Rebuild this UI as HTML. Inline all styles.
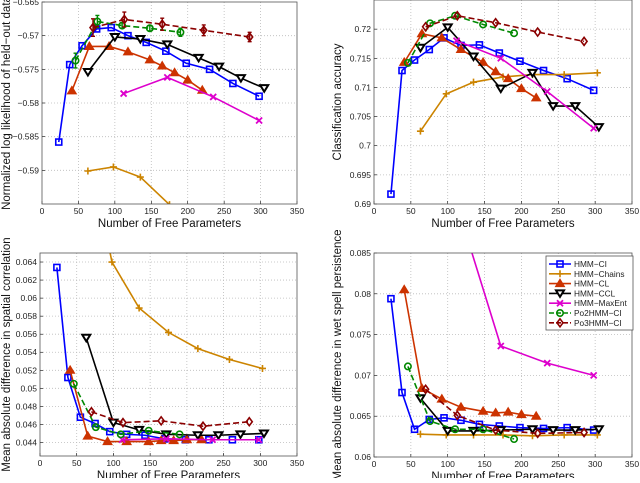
<!DOCTYPE html>
<html><head><meta charset="utf-8"><style>
body{margin:0;background:#fff;width:640px;height:478px;overflow:hidden}
svg{font-family:"Liberation Sans",sans-serif}
</style></head><body>
<svg id="fig" width="640" height="478" viewBox="0 0 640 478" xmlns="http://www.w3.org/2000/svg"></svg>
<script>
const xTicks=[0,50,100,150,200,250,300,350];
const seriesNames=["HMM-CI","HMM-Chains","HMM-CL","HMM-CCL","HMM-MaxEnt","Po2HMM-CI","Po3HMM-CI"];
const legendLabels=["HMM\u2212CI","HMM\u2212Chains","HMM\u2212CL","HMM\u2212CCL","HMM\u2212MaxEnt","Po2HMM\u2212CI","Po3HMM\u2212CI"];
// x values (number of free parameters)
const xCI=[23,38,55,75,95,118,143,170,198,230,262,298];
const xChains=[63,98,135,175,215,258,303];
const xCL=[41,65,92,118,148,165,182,200,220];
const xCCL=[63,100,135,172,215,243,273,305];
const xMax=[112,172,235,298];
const xPo2=[46,76,110,148,190];
const xPo3=[70,113,165,222,285];
// Panel 1: log likelihood
const llCI=[-0.5858,-0.5743,-0.5715,-0.5690,-0.5688,-0.5700,-0.5710,-0.5723,-0.5741,-0.5750,-0.5771,-0.5790];
const llChains=[-0.5901,-0.5895,-0.5910,-0.5951];
const llCL=[-0.5782,-0.5716,-0.5716,-0.5724,-0.5736,-0.5745,-0.5755,-0.5766,-0.5781];
const llCCL=[-0.5754,-0.5702,-0.5705,-0.5713,-0.5733,-0.5746,-0.5763,-0.5778];
const llMax=[-0.5786,-0.5762,-0.5791,-0.5826];
const llPo2=[-0.5737,-0.5679,-0.5685,-0.5689,-0.5695];
const llPo3=[-0.5688,-0.5676,-0.5683,-0.5692,-0.5702];
const llPo2Err=[0.0011,0.0009,0.0004,0.0004,0.0006];
const llPo3Err=[0.0013,0.0011,0.0009,0.0008,0.0007];
// Panel 2: classification accuracy
const acCI=[0.6917,0.7129,0.7147,0.7165,0.7185,0.7172,0.7173,0.7159,0.7145,0.7129,0.7115,0.7095];
const acChains=[0.7025,0.7089,0.7109,0.7118,0.7122,0.7122,0.7125];
const acCL=[0.7143,0.7192,0.7185,0.7165,0.7143,0.7127,0.7115,0.7098,0.7082];
const acCCL=[0.7168,0.7203,0.7153,0.7098,0.7125,0.7068,0.7068,0.7032];
const acMax=[0.7180,0.7150,0.7093,0.7030];
const acPo2=[0.7142,0.7210,0.7223,0.7208,0.7193];
const acPo3=[0.7204,0.7223,0.7211,0.7195,0.7179];
// Panel 3: spatial correlation
const scCI=[0.0634,0.0512,0.0468,0.0461,0.0452,0.0449,0.0448,0.0444,0.0443,0.0443,0.0443,0.0443];
const scChains=[0.0780,0.0640,0.0589,0.0562,0.0544,0.0532,0.0522];
const scCL=[0.0520,0.0447,0.0441,0.0441,0.0441,0.0442,0.0442,0.0443,0.0443];
const scCCL=[0.0556,0.0462,0.0454,0.0449,0.0448,0.0448,0.0449,0.0450];
const scMax=[0.0443,0.0444,0.0443,0.0443];
const scPo2=[0.0505,0.0457,0.0449,0.0453,0.0449];
const scPo3=[0.0474,0.0462,0.0464,0.0458,0.0463];
// Panel 4: wet spell persistence
const wsCI=[0.0794,0.0679,0.0634,0.0646,0.0648,0.0645,0.0640,0.0638,0.0636,0.0635,0.0636,0.0633];
const wsChains=[0.0628,0.0627,0.0627,0.0627,0.0626,0.0627,0.0627];
const wsCL=[0.0805,0.0684,0.0671,0.0661,0.0656,0.0654,0.0655,0.0652,0.0650];
const wsCCL=[0.0672,0.0632,0.0632,0.0633,0.0634,0.0633,0.0633,0.0634];
const wsMax=[0.0911,0.0736,0.0715,0.0700];
const wsPo2=[0.0711,0.0644,0.0634,0.0634,0.0622];
const wsPo3=[0.0683,0.0651,0.0633,0.0629,0.0630];
const yTicks1=[-0.59,-0.585,-0.58,-0.575,-0.57,-0.565];
const yTicks2=[0.69,0.695,0.7,0.705,0.71,0.715,0.72];
const yTicks3=[0.044,0.046,0.048,0.05,0.052,0.054,0.056,0.058,0.06,0.062,0.064];
const yTicks4=[0.06,0.065,0.07,0.075,0.08,0.085];

const NS="http://www.w3.org/2000/svg";
const svg=document.getElementById('fig');
const colors=["#0000ff","#cc8400","#cc3300","#000000","#dd00cc","#008800","#8b0000"];
const dashes=[null,null,null,null,null,"6,3","6,3"];
const markers=["sq","plus","tu","td","x","ci","di"];
function el(t,a,p){const e=document.createElementNS(NS,t);for(const k in a)e.setAttribute(k,a[k]);(p||svg).appendChild(e);return e;}
function fmt(v){return String(v).replace('-','\u2212');}
function marker(g,type,x,y,c){let m;
 if(type==="sq")m=el('rect',{x:x-3,y:y-3,width:6,height:6,fill:'none',stroke:c,'stroke-width':1.6},g);
 else if(type==="plus")m=el('path',{d:`M${x-3.5} ${y}H${x+3.5}M${x} ${y-3.5}V${y+3.5}`,stroke:c,'stroke-width':1.6},g);
 else if(type==="tu")m=el('path',{d:`M${x} ${y-4.5}L${x+4.5} ${y+3}L${x-4.5} ${y+3}Z`,fill:c,stroke:c,'stroke-width':1},g);
 else if(type==="td")m=el('path',{d:`M${x} ${y+3.5}L${x+4} ${y-3}L${x-4} ${y-3}Z`,fill:'#fff',stroke:c,'stroke-width':2},g);
 else if(type==="x")m=el('path',{d:`M${x-3} ${y-3}L${x+3} ${y+3}M${x+3} ${y-3}L${x-3} ${y+3}`,stroke:c,'stroke-width':1.8},g);
 else if(type==="ci")m=el('circle',{cx:x,cy:y,r:3.2,fill:'none',stroke:c,'stroke-width':1.6},g);
 else m=el('path',{d:`M${x} ${y-4}L${x+3} ${y}L${x} ${y+4}L${x-3} ${y}Z`,fill:'none',stroke:c,'stroke-width':1.6},g);
 
 
}
function panel(id,L,R,T,B,ymin,ymax,yticks,series,ylabel,ylx,errs){
 const g=el('g',{});
 
 
 const sx=v=>L+(v-0)/(350-0)*(R-L);
 const sy=v=>B-(v-ymin)/(ymax-ymin)*(B-T);
 el('rect',{x:L,y:T,width:R-L,height:B-T,fill:'#fff'},g);
 xTicks.forEach(t=>{const x=sx(t);
  if(t>0&&t<350)el('line',{x1:x,y1:T,x2:x,y2:B,stroke:'#bbb','stroke-width':0.8,'stroke-dasharray':'1,2'},g);
  el('line',{x1:x,y1:B,x2:x,y2:B-3,stroke:'#000','stroke-width':0.6},g);
  const tx=el('text',{x:x,y:B+10,'font-size':8.5,'text-anchor':'middle',fill:'#222'},g);tx.textContent=t;
  
  });
 yticks.forEach(t=>{const y=sy(t);
  if(y>T+1&&y<B-1)el('line',{x1:L,y1:y,x2:R,y2:y,stroke:'#bbb','stroke-width':0.8,'stroke-dasharray':'1,2'},g);
  el('line',{x1:L,y1:y,x2:L+3,y2:y,stroke:'#000','stroke-width':0.6},g);
  const tx=el('text',{x:L-3,y:y+3,'font-size':8.5,'text-anchor':'end',fill:'#222'},g);tx.textContent=fmt(t);
  
  });
 const cid='clip'+id;
 const cp=el('clipPath',{id:cid},g);el('rect',{x:L,y:T,width:R-L,height:B-T},cp);
 const dg=el('g',{'clip-path':`url(#${cid})`},g);
 series.forEach((s,i)=>{
  const xs=s[0],ys=s[1];
  const sg=el('g',{},dg);
  
  
  const pts=xs.map((x,j)=>sx(x)+','+sy(ys[j])).join(' ');
  const a={points:pts,fill:'none',stroke:colors[i],'stroke-width':1.6};
  if(dashes[i])a['stroke-dasharray']=dashes[i];
  el('polyline',a,sg);
  if(errs&&errs[i]){xs.forEach((x,j)=>{const e=errs[i][j];const X=sx(x);
   el('path',{d:`M${X} ${sy(ys[j]-e)}V${sy(ys[j]+e)}M${X-2} ${sy(ys[j]+e)}H${X+2}M${X-2} ${sy(ys[j]-e)}H${X+2}`,stroke:colors[i],'stroke-width':1.4,fill:'none'},sg);});}
  xs.forEach((x,j)=>marker(sg,markers[i],sx(x),sy(ys[j]),colors[i]));
 });
 el('rect',{x:L,y:T,width:R-L,height:B-T,fill:'none',stroke:'#555','stroke-width':0.8},g);
 const xl=el('text',{x:(L+R)/2,y:B+23,'font-size':11.5,'text-anchor':'middle',fill:'#111'},g);xl.textContent="Number of Free Parameters";
 
 
 const yl=el('text',{x:0,y:0,'font-size':11.5,'text-anchor':'middle',fill:'#111',transform:`translate(${ylx},${(T+B)/2}) rotate(-90)`},g);yl.textContent=ylabel;
 
 
}
panel('top-left-panel',42,297,2,204,-0.595,-0.565,yTicks1,
 [[xCI,llCI],[xChains,llChains],[xCL,llCL],[xCCL,llCCL],[xMax,llMax],[xPo2,llPo2],[xPo3,llPo3]],
 "Normalized log likelihood of held\u2212out data",10,[null,null,null,null,null,llPo2Err,llPo3Err]);
panel('top-right-panel',374,632,0,204,0.69,0.725,yTicks2,
 [[xCI,acCI],[xChains,acChains],[xCL,acCL],[xCCL,acCCL],[xMax,acMax],[xPo2,acPo2],[xPo3,acPo3]],
 "Classification accuracy",341);
panel('bottom-left-panel',40,297,253,456,0.0425,0.065,yTicks3,
 [[xCI,scCI],[xChains,scChains],[xCL,scCL],[xCCL,scCCL],[xMax,scMax],[xPo2,scPo2],[xPo3,scPo3]],
 "Mean absolute difference in spatial correlation",10);
panel('bottom-right-panel',374,632,253,457,0.06,0.085,yTicks4,
 [[xCI,wsCI],[xChains,wsChains],[xCL,wsCL],[xCCL,wsCCL],[xMax,wsMax],[xPo2,wsPo2],[xPo3,wsPo3]],
 "Mean absolute difference in wet spell persistence",341);
// legend
const lg=el('g',{});


el('rect',{x:546,y:256,width:87,height:74,fill:'#fff',stroke:'#555','stroke-width':0.8},lg);
legendLabels.forEach((n,i)=>{const y=264+i*9.8;
 const eg=el('g',{},lg);
 
 
 const a={x1:549,y1:y,x2:571,y2:y,stroke:colors[i],'stroke-width':1.6};
 if(dashes[i])a['stroke-dasharray']='5,2';
 el('line',a,eg);
 marker(eg,markers[i],560,y,colors[i]);
 const t=el('text',{x:574,y:y+3,'font-size':8.3,fill:'#222'},eg);t.textContent=n;
});
</script>
</body></html>
